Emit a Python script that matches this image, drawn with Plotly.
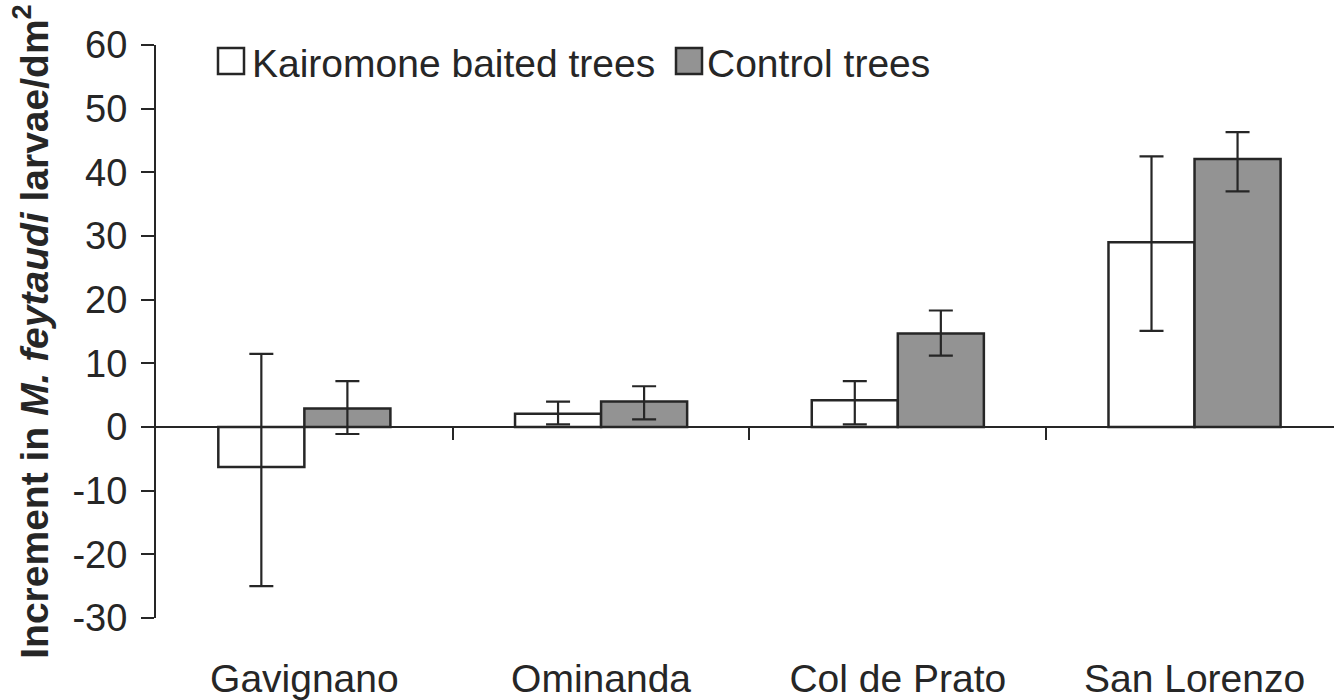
import plotly.graph_objects as go

# ---- data -------------------------------------------------------------
sites = ["Gavignano", "Ominanda", "Col de Prato", "San Lorenzo"]
series_names = ["Kairomone baited trees", "Control trees"]

kairomone = [-6.3, 2.1, 4.2, 29.0]
kairomone_err_plus = [17.8, 1.9, 3.0, 13.5]
kairomone_err_minus = [18.7, 1.7, 3.8, 13.9]

control = [2.9, 4.0, 14.7, 42.1]
control_err_plus = [4.3, 2.4, 3.6, 4.2]
control_err_minus = [4.0, 2.8, 3.5, 5.1]

y_ticks = [-30, -20, -10, 0, 10, 20, 30, 40, 50, 60]
y_tick_labels = ["-30", "-20", "-10", "0", "10", "20", "30", "40", "50", "60"]

# ---- styling ----------------------------------------------------------
W, H = 1334, 700
M_L, M_R, M_T, M_B = 156, 0, 45, 82
INK = "#262626"
GREY = "#939393"
FONT = "Liberation Sans, Arial, sans-serif"
FS = 39

x_pos = list(range(len(sites)))
boundaries = [i + 0.5 for i in range(len(sites) - 1)]
y_min, y_max = y_ticks[0], y_ticks[-1]
x_range = [-0.5, 3.47]


def px_x(p):
    return (p - M_L) / (W - M_L - M_R)


def px_y(p):
    return (H - M_B - p) / (H - M_T - M_B)


err_style = dict(type="data", symmetric=False, color=INK, thickness=2.2, width=12)

fig = go.Figure()
fig.add_trace(go.Bar(
    x=x_pos, y=kairomone, name=series_names[0],
    marker=dict(color="white", line=dict(color=INK, width=2.5)),
    error_y=dict(array=kairomone_err_plus, arrayminus=kairomone_err_minus, **err_style),
    showlegend=False,
))
fig.add_trace(go.Bar(
    x=x_pos, y=control, name=series_names[1],
    marker=dict(color=GREY, line=dict(color=INK, width=2.5)),
    error_y=dict(array=control_err_plus, arrayminus=control_err_minus, **err_style),
    showlegend=False,
))
# carrier for the zero-line axis with boundary ticks
fig.add_trace(go.Scatter(x=[x_range[0]], y=[0], xaxis="x2", mode="none",
                         showlegend=False, hoverinfo="skip"))

fig.update_layout(
    width=W, height=H,
    margin=dict(l=M_L, r=M_R, t=M_T, b=M_B, pad=0, autoexpand=False),
    paper_bgcolor="white", plot_bgcolor="white",
    barmode="group", bargap=0.42, bargroupgap=0,
    font=dict(family=FONT, size=FS, color=INK),
    xaxis=dict(
        range=x_range, tickvals=x_pos, ticktext=sites,
        showline=False, showgrid=False, zeroline=False, automargin=False,
        ticks="outside", ticklen=26, tickcolor="rgba(0,0,0,0)",
        tickfont=dict(size=FS),
    ),
    xaxis2=dict(
        overlaying="x", anchor="free",
        position=(0 - y_min) / (y_max - y_min),
        range=x_range, tickvals=boundaries, showticklabels=False,
        showline=True, linecolor=INK, linewidth=2,
        ticks="outside", ticklen=12, tickwidth=2, tickcolor=INK,
        showgrid=False, zeroline=False, automargin=False,
    ),
    yaxis=dict(
        range=[y_min, y_max], tickvals=y_ticks, ticktext=y_tick_labels,
        showline=True, linecolor=INK, linewidth=2,
        ticks="outside", ticklen=13, tickwidth=2, tickcolor=INK,
        ticklabelstandoff=6, automargin=False,
        showgrid=False, zeroline=False,
        tickfont=dict(size=FS - 1),
        title=dict(
            text="<b>Increment in <i>M. feytaudi</i> larvae/dm<sup>2</sup></b>",
            font=dict(size=FS), standoff=12,
        ),
    ),
)

# legend boxes and labels
legend_items = [
    (series_names[0], "white", 218, 250),
    (series_names[1], GREY, 676, 705),
]
for name, fill, box_left, text_left in legend_items:
    fig.add_shape(type="rect", xref="paper", yref="paper",
                  x0=px_x(box_left), x1=px_x(box_left + 26),
                  y0=px_y(74), y1=px_y(48),
                  fillcolor=fill, line=dict(color=INK, width=2.5))
    fig.add_annotation(text=name, xref="paper", yref="paper",
                       x=px_x(text_left), y=px_y(63),
                       xanchor="left", yanchor="middle", showarrow=False,
                       font=dict(size=FS, color=INK))

fig.write_html("out.html")
